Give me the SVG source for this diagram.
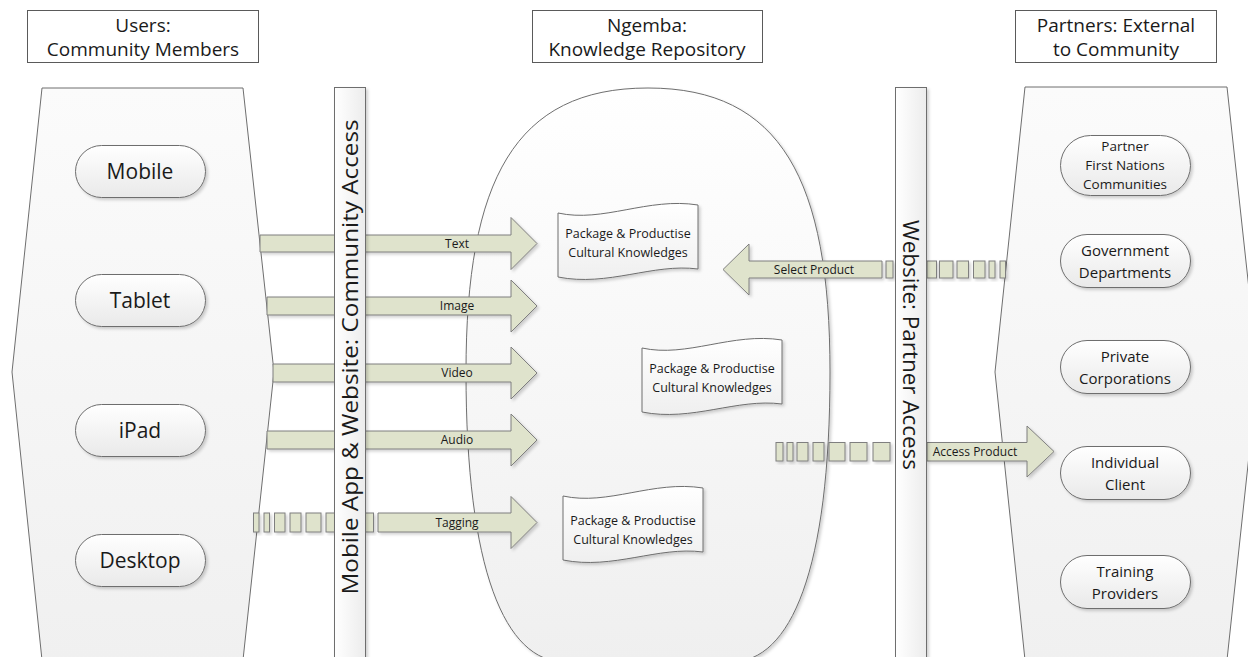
<svg xmlns="http://www.w3.org/2000/svg" width="1248" height="657" viewBox="0 0 1248 657">
<defs>
<linearGradient id="pillG" x1="0" y1="0" x2="0" y2="1"><stop offset="0" stop-color="#ffffff"/><stop offset="1" stop-color="#e9e9e9"/></linearGradient>
<linearGradient id="hexG" x1="0" y1="0" x2="0" y2="1"><stop offset="0" stop-color="#fbfbfb"/><stop offset="1" stop-color="#f0f0f0"/></linearGradient>
<linearGradient id="barG" x1="0" y1="0" x2="1" y2="0"><stop offset="0" stop-color="#ffffff"/><stop offset="1" stop-color="#ececec"/></linearGradient>
<linearGradient id="docG" x1="0" y1="0" x2="0" y2="1"><stop offset="0" stop-color="#ffffff"/><stop offset="1" stop-color="#efefef"/></linearGradient>
<filter id="sh" x="-10%" y="-10%" width="130%" height="130%"><feDropShadow dx="2" dy="2" stdDeviation="1.5" flood-color="#000" flood-opacity="0.18"/></filter>
<path id="doc" d="M0,8 C45,18 90,-8 140,0 L140,64 C95,58 50,82 0,72 Z"/>
</defs>
<style>
text{font-family:"Open Sans","Liberation Sans",sans-serif;fill:#1a1a1a}
.hdr{fill:#fff;stroke:#5a5a5a;stroke-width:1}
.hdrt{font-size:19px;text-anchor:middle}
.hex{fill:url(#hexG);stroke:#6e6e6e;stroke-width:1}
.pill{fill:url(#pillG);stroke:#6e6e6e;stroke-width:1;filter:url(#sh)}
.pl{font-size:21px;text-anchor:middle}
.pr{font-size:15px;text-anchor:middle}
.pr3{font-size:13.5px;text-anchor:middle}
.bar{fill:url(#barG);stroke:#6e6e6e;stroke-width:1;filter:url(#sh)}
.bart{font-size:22px;text-anchor:middle}
.arr{fill:#dfe3cc;stroke:#7f7f7f;stroke-width:1;filter:url(#sh)}
.al{font-size:12px;text-anchor:middle}
.doc{fill:url(#docG);stroke:#6e6e6e;stroke-width:1;filter:url(#sh)}
.dt{font-size:12.5px;text-anchor:middle}
.core{fill:url(#docG);stroke:#6e6e6e;stroke-width:1;filter:url(#sh)}
</style>
<rect width="1248" height="657" fill="#fff"/>

<g id="header-users"><rect class="hdr" x="27.5" y="10.5" width="231" height="52"/><text class="hdrt" x="143" y="32">Users:</text><text class="hdrt" x="143" y="56">Community Members</text></g>
<g id="header-ngemba"><rect class="hdr" x="532.5" y="10.5" width="230" height="52"/><text class="hdrt" x="647" y="32">Ngemba:</text><text class="hdrt" x="647" y="56">Knowledge Repository</text></g>
<g id="header-partners"><rect class="hdr" x="1015.5" y="10.5" width="201" height="52"/><text class="hdrt" x="1116" y="32">Partners: External</text><text class="hdrt" x="1116" y="56">to Community</text></g>

<g id="users-panel"><path class="hex" d="M42,88 L243,88 L274,372 L243,660 L42,660 L12,372 Z"/></g>
<g id="partners-panel"><path class="hex" d="M1025,87 L1227,87 L1258,372 L1227,660 L1025,660 L995,372 Z"/></g>
<g id="repository"><path class="core" d="M648,88 C515,88 466,180 466,372 C466,570 505,662 565,662 L731,662 C791,662 830,570 830,372 C830,180 781,88 648,88 Z"/></g>

<g id="mobile"><rect class="pill" x="75.5" y="145.5" width="130" height="52" rx="26"/><text class="pl" x="140" y="179">Mobile</text></g>
<g id="tablet"><rect class="pill" x="75.5" y="274.5" width="130" height="52" rx="26"/><text class="pl" x="140" y="308">Tablet</text></g>
<g id="ipad"><rect class="pill" x="75.5" y="404.5" width="130" height="52" rx="26"/><text class="pl" x="140" y="438">iPad</text></g>
<g id="desktop"><rect class="pill" x="75.5" y="534.5" width="130" height="52" rx="26"/><text class="pl" x="140" y="568">Desktop</text></g>

<g id="partner-fn"><rect class="pill" x="1060.5" y="135.5" width="130" height="60" rx="30"/><text class="pr3" x="1125" y="151">Partner</text><text class="pr3" x="1125" y="170">First Nations</text><text class="pr3" x="1125" y="189">Communities</text></g>
<g id="government"><rect class="pill" x="1060.5" y="234.5" width="130" height="53" rx="26.5"/><text class="pr" x="1125" y="256">Government</text><text class="pr" x="1125" y="278">Departments</text></g>
<g id="private"><rect class="pill" x="1060.5" y="340.5" width="130" height="53" rx="26.5"/><text class="pr" x="1125" y="362">Private</text><text class="pr" x="1125" y="384">Corporations</text></g>
<g id="individual"><rect class="pill" x="1060.5" y="446.5" width="130" height="53" rx="26.5"/><text class="pr" x="1125" y="468">Individual</text><text class="pr" x="1125" y="490">Client</text></g>
<g id="training"><rect class="pill" x="1060.5" y="555.5" width="130" height="53" rx="26.5"/><text class="pr" x="1125" y="577">Training</text><text class="pr" x="1125" y="599">Providers</text></g>

<g id="doc1"><use href="#doc" class="doc" transform="translate(558,205)"/><text class="dt" x="628" y="238">Package &amp; Productise</text><text class="dt" x="628" y="257">Cultural Knowledges</text></g>
<g id="doc2"><use href="#doc" class="doc" transform="translate(642,340)"/><text class="dt" x="712" y="373">Package &amp; Productise</text><text class="dt" x="712" y="392">Cultural Knowledges</text></g>
<g id="doc3"><use href="#doc" class="doc" transform="translate(563,488)"/><text class="dt" x="633" y="525">Package &amp; Productise</text><text class="dt" x="633" y="544">Cultural Knowledges</text></g>

<g id="connectors">
<path class="arr" d="M260,235 H511 V217.5 L537,243.5 L511,269.5 V252 H260 Z"/>
<text class="al" x="457" y="248">Text</text>
<path class="arr" d="M267,297 H511 V280 L537,306 L511,332 V315 H267 Z"/>
<text class="al" x="457" y="310">Image</text>
<path class="arr" d="M273,364 H511 V347 L537,373 L511,399 V382 H273 Z"/>
<text class="al" x="457" y="377">Video</text>
<path class="arr" d="M267,431 H511 V414 L537,440 L511,466 V449 H267 Z"/>
<text class="al" x="457" y="444">Audio</text>
<g class="arr">
<rect x="253.5" y="513" width="5.5" height="19"/><rect x="264" y="513" width="5.5" height="19"/><rect x="274.5" y="513" width="10.5" height="19"/><rect x="290" y="513" width="11" height="19"/><rect x="306" y="513" width="15" height="19"/><rect x="326" y="513" width="16" height="19"/><rect x="346" y="513" width="16" height="19"/><rect x="365" y="513" width="8.5" height="19"/>
</g>
<path class="arr" d="M378,513 H511 V496.5 L537,522.5 L511,548.5 V532 H378 Z"/>
<text class="al" x="457" y="527">Tagging</text>

<g class="arr">
<rect x="886" y="261" width="7" height="17"/><rect x="898" y="261" width="10" height="17"/><rect x="912" y="261" width="10" height="17"/><rect x="927" y="261" width="9.5" height="17"/><rect x="939.5" y="261" width="13.5" height="17"/><rect x="957" y="261" width="11.5" height="17"/><rect x="973.5" y="261" width="11.5" height="17"/><rect x="989" y="261" width="6" height="17"/><rect x="1000" y="261" width="5.5" height="17"/>
</g>
<path class="arr" d="M882,261 H749 V244 L723,269.5 L749,295 V278 H882 Z"/>
<text class="al" x="814" y="274">Select Product</text>

<g class="arr">
<rect x="776" y="442.5" width="7" height="18.5"/><rect x="787" y="442.5" width="6" height="18.5"/><rect x="797" y="442.5" width="11" height="18.5"/><rect x="813" y="442.5" width="11" height="18.5"/><rect x="829" y="442.5" width="16" height="18.5"/><rect x="850" y="442.5" width="17" height="18.5"/><rect x="873" y="442.5" width="17" height="18.5"/>
</g>
<path class="arr" d="M927,442.5 H1027 V426 L1054,451.5 L1027,477 V461 H927 Z"/>
<text class="al" x="975" y="456">Access Product</text>
</g>

<g id="community-access"><rect class="bar" x="334.5" y="87.5" width="31" height="575"/><text class="bart" transform="translate(358,357) rotate(-90)" x="0" y="0" textLength="475" lengthAdjust="spacingAndGlyphs">Mobile App &amp; Website: Community Access</text></g>
<g id="partner-access"><rect class="bar" x="895.5" y="87.5" width="31" height="575"/><text class="bart" transform="translate(903,345) rotate(90)" x="0" y="0" textLength="250" lengthAdjust="spacingAndGlyphs">Website: Partner Access</text></g>
</svg>
